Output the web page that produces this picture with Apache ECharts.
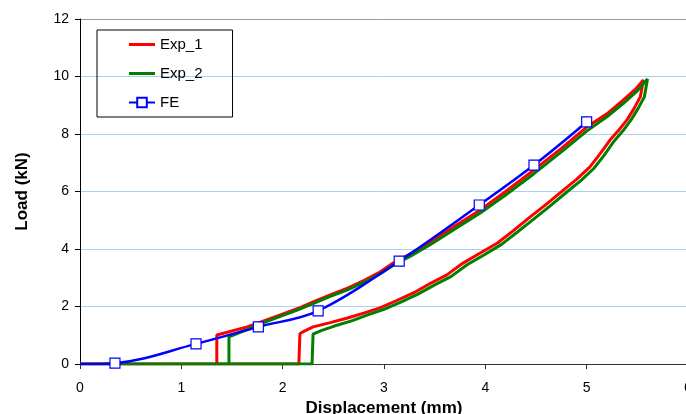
<!DOCTYPE html>
<html>
<head>
<meta charset="utf-8">
<script src="https://cdn.jsdelivr.net/npm/echarts@6/dist/echarts.min.js"></script>
<style>
  html, body { margin: 0; padding: 0; background: #fff; }
  #main { width: 686px; height: 414px; }
</style>
</head>
<body>
<div id="main"></div>
<script>
// load-displacement data, [displacement mm, load kN]
var exp1 = [
  [0, 0], [1.35, 0], [1.35, 1.01], [1.5, 1.15], [1.65, 1.29], [1.8, 1.48], [1.97, 1.70],
  [2.15, 1.93], [2.30, 2.16], [2.47, 2.40], [2.64, 2.64], [2.80, 2.90], [2.96, 3.2],
  [3.09, 3.51], [3.27, 3.85], [3.455, 4.24], [3.7, 4.8], [3.95, 5.36], [4.2, 6.0],
  [4.48, 6.75], [4.75, 7.5], [5.0, 8.24], [5.2, 8.7], [5.36, 9.18], [5.48, 9.55], [5.56, 9.88],
  // unloading
  [5.53, 9.3], [5.47, 8.9], [5.40, 8.5], [5.32, 8.15], [5.23, 7.79], [5.13, 7.3], [5.03, 6.85],
  [4.9, 6.42], [4.77, 6.05], [4.6, 5.55], [4.44, 5.11], [4.28, 4.65], [4.12, 4.21], [3.95, 3.86],
  [3.78, 3.51], [3.62, 3.10], [3.455, 2.8], [3.29, 2.47], [3.12, 2.2], [2.96, 1.95], [2.8, 1.77],
  [2.64, 1.6], [2.47, 1.44], [2.3, 1.29], [2.19, 1.1], [2.17, 1.05], [2.16, 0], [1.35, 0]
];

var exp2 = [
  [0, 0], [1.47, 0], [1.47, 0.94], [1.65, 1.2], [1.8, 1.42], [1.97, 1.65], [2.15, 1.88],
  [2.3, 2.1], [2.47, 2.35], [2.64, 2.58], [2.8, 2.84], [2.96, 3.13], [3.09, 3.43], [3.27, 3.77],
  [3.455, 4.15], [3.7, 4.7], [3.95, 5.25], [4.2, 5.88], [4.48, 6.62], [4.75, 7.38], [5.0, 8.1],
  [5.2, 8.6], [5.36, 9.06], [5.5, 9.5], [5.6, 9.91],
  // unloading
  [5.57, 9.3], [5.51, 8.9], [5.44, 8.5], [5.36, 8.12], [5.27, 7.75], [5.17, 7.25], [5.07, 6.8],
  [4.94, 6.37], [4.81, 6.0], [4.64, 5.5], [4.48, 5.05], [4.32, 4.6], [4.16, 4.16], [3.99, 3.8],
  [3.82, 3.45], [3.66, 3.04], [3.5, 2.75], [3.33, 2.42], [3.16, 2.14], [3.0, 1.9], [2.84, 1.71],
  [2.68, 1.5], [2.51, 1.32], [2.38, 1.16], [2.3, 1.04], [2.29, 0], [1.47, 0]
];

var fe = [
  [0, 0], [0.345, 0.03], [1.145, 0.70], [1.76, 1.29], [2.35, 1.85],
  [3.15, 3.58], [3.94, 5.53], [4.48, 6.92], [5.0, 8.42]
];

var xTicks = [0, 1, 2, 3, 4, 5, 6];
var yTicks = [0, 2, 4, 6, 8, 10, 12];

var font = 'Arial, "Liberation Sans", sans-serif';
// plain line for the legend of the experimental curves
var lineIcon = 'path://M0,0H26V3H0Z';

var feData = fe.map(function (p, i) {
  // first point is only the start of the line, no marker in the picture
  return i === 0 ? { value: p, symbol: 'none' } : { value: p };
});

var myChart = echarts.init(document.getElementById('main'));

var option = {
  animation: false,
  backgroundColor: '#fff',
  textStyle: { fontFamily: font },
  grid: { left: 80, top: 19, width: 608, height: 345, outerBoundsMode: 'none', containLabel: false },
  legend: {
    orient: 'vertical',
    left: 97,
    top: 30,
    padding: [7, 30, 7, 31],
    itemWidth: 26,
    itemHeight: 12,
    itemGap: 14,
    borderColor: '#000',
    borderWidth: 1,
    textStyle: { fontSize: 15, color: '#000', fontFamily: font },
    data: [
      { name: 'Exp_1', icon: lineIcon },
      { name: 'Exp_2', icon: lineIcon },
      'FE'
    ]
  },
  xAxis: {
    type: 'value',
    min: xTicks[0],
    max: xTicks[xTicks.length - 1],
    interval: 1,
    name: 'Displacement (mm)',
    nameLocation: 'middle',
    nameGap: 33,
    nameTextStyle: { fontSize: 17, fontWeight: 'bold', color: '#000', fontFamily: font },
    axisLine: { lineStyle: { color: '#333', width: 1 } },
    axisTick: { show: true, length: 5, lineStyle: { color: '#333' } },
    axisLabel: { fontSize: 14, color: '#000', margin: 17, fontFamily: font },
    splitLine: { show: false }
  },
  yAxis: {
    type: 'value',
    min: yTicks[0],
    max: yTicks[yTicks.length - 1],
    interval: 2,
    name: 'Load (kN)',
    nameLocation: 'middle',
    nameGap: 49,
    nameTextStyle: { fontSize: 17, fontWeight: 'bold', color: '#000', fontFamily: font },
    axisLine: { show: true, lineStyle: { color: '#000', width: 1 } },
    axisTick: { show: true, length: 5, lineStyle: { color: '#000' } },
    axisLabel: { fontSize: 14, color: '#000', margin: 11, fontFamily: font },
    splitLine: {
      show: true,
      lineStyle: {
        color: ['#a8d0f5', '#a8d0f5', '#a8d0f5', '#a8d0f5', '#a8d0f5', '#a8d0f5', '#999'],
        width: 1
      }
    }
  },
  series: [
    {
      name: 'Exp_1',
      type: 'line',
      data: exp1,
      symbol: 'none',
      lineStyle: { color: '#ff0000', width: 3 },
      itemStyle: { color: '#ff0000' }
    },
    {
      name: 'Exp_2',
      type: 'line',
      data: exp2,
      symbol: 'none',
      lineStyle: { color: '#008000', width: 3 },
      itemStyle: { color: '#008000' }
    },
    {
      name: 'FE',
      type: 'line',
      data: feData,
      smooth: 0.35,
      symbol: 'rect',
      symbolSize: 10,
      showAllSymbol: true,
      lineStyle: { color: '#0000ff', width: 2.5 },
      itemStyle: { color: '#fff', borderColor: '#0000ff', borderWidth: 1.2 }
    }
  ]
};

myChart.setOption(option);
</script>
</body>
</html>
